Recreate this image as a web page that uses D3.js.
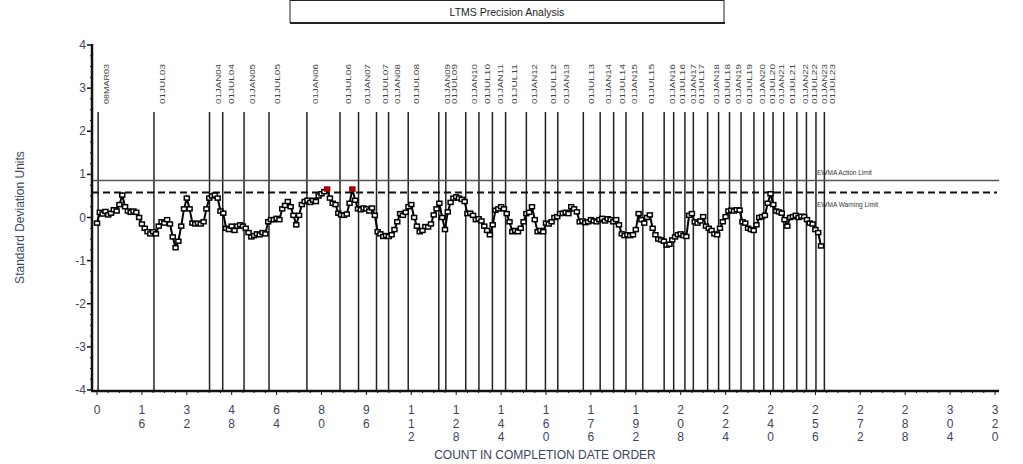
<!DOCTYPE html>
<html>
<head>
<meta charset="utf-8">
<script src="https://cdn.jsdelivr.net/npm/d3@7"></script>
<style>
  body { margin: 0; background: #fff; }
  svg { display: block; font-family: "Liberation Sans", Arial, sans-serif; }
</style>
</head>
<body>
<div id="chart"></div>
<script>
// EWMA values in completion order (count 0..258)
const ewma = [
  -0.13, 0.12, 0.08, 0.14, 0.06, 0.10, 0.18, 0.15, 0.30, 0.52,
  0.25, 0.15, 0.12, 0.15, 0.12, 0.00, -0.15, -0.25, -0.33, -0.38,
  -0.33, -0.38, -0.20, -0.10, -0.13, -0.05, -0.15, -0.45, -0.70, -0.55,
  -0.20, 0.20, 0.45, 0.20, -0.13, -0.15, -0.13, -0.15, -0.10, 0.20,
  0.45, 0.50, 0.52, 0.45, 0.15, 0.10, -0.25, -0.28, -0.20, -0.30,
  -0.20, -0.17, -0.20, -0.25, -0.35, -0.45, -0.42, -0.38, -0.40, -0.35,
  -0.38, -0.10, -0.05, -0.05, -0.02, -0.05, 0.20, 0.28, 0.37, 0.25,
  0.05, -0.17, 0.05, 0.30, 0.37, 0.40, 0.35, 0.40, 0.37, 0.50,
  0.55, 0.60, 0.66, 0.45, 0.33, 0.30, 0.10, 0.06, 0.05, 0.08,
  0.33, 0.66, 0.40, 0.20, 0.18, 0.22, 0.20, 0.15, 0.22, 0.05,
  -0.33, -0.38, -0.44, -0.42, -0.44, -0.40, -0.28, -0.10, 0.09, 0.05,
  0.12, 0.25, 0.30, 0.00, -0.20, -0.33, -0.30, -0.21, -0.22, -0.15,
  0.06, 0.20, 0.33, 0.00, -0.28, 0.13, 0.35, 0.45, 0.48, 0.45,
  0.42, 0.37, 0.09, 0.10, 0.05, -0.05, -0.03, -0.08, -0.20, -0.30,
  -0.40, -0.17, 0.17, 0.20, 0.25, 0.20, 0.09, -0.10, -0.33, -0.30,
  -0.33, -0.25, -0.10, 0.09, 0.12, 0.25, -0.05, -0.33, -0.30, -0.33,
  -0.13, -0.15, -0.10, 0.00, 0.02, 0.09, 0.10, 0.12, 0.09, 0.25,
  0.20, 0.13, -0.10, -0.08, -0.12, -0.10, -0.05, -0.08, -0.10, -0.05,
  -0.02, -0.08, -0.03, -0.05, -0.10, -0.05, -0.17, -0.38, -0.42, -0.40,
  -0.42, -0.40, -0.28, 0.09, -0.05, -0.13, 0.00, 0.06, -0.25, -0.40,
  -0.50, -0.52, -0.55, -0.64, -0.62, -0.52, -0.45, -0.40, -0.38, -0.42,
  -0.44, 0.05, 0.09, -0.10, -0.13, -0.08, 0.02, -0.20, -0.25, -0.30,
  -0.38, -0.40, -0.25, -0.10, 0.02, 0.15, 0.17, 0.15, 0.18, 0.17,
  -0.10, -0.13, -0.25, -0.28, -0.30, -0.17, 0.00, 0.02, 0.05, 0.33,
  0.55, 0.30, 0.15, 0.13, 0.10, -0.05, -0.20, 0.00, 0.02, 0.05,
  0.00, 0.03, 0.02, -0.05, -0.13, -0.15, -0.28, -0.35, -0.66
];
// points flagged red (beyond warning limit)
const flagged = [82, 91];

// date markers: label and count position
const dateLabels = ["08MAR03","01JUL03","01JAN04","01JUL04","01JAN05","01JUL05","01JAN06","01JUL06",
  "01JAN07","01JUL07","01JAN08","01JUL08","01JAN09","01JUL09","01JAN10","01JUL10","01JAN11","01JUL11",
  "01JAN12","01JUL12","01JAN13","01JUL13","01JAN14","01JUL14","01JAN15","01JUL15","01JAN16","01JUL16",
  "01JAN17","01JUL17","01JAN18","01JUL18","01JAN19","01JUL19","01JAN20","01JUL20","01JAN21","01JUL21",
  "01JAN22","01JUL22","01JAN23","01JUL23"];
const dateCounts = [0.4, 20.3, 40.1, 44.8, 52.4, 61.3, 74.8, 86.6, 93.2, 99.6, 103.9, 110.9,
  121.8, 124.3, 131.4, 136.1, 140.9, 145.6, 153.0, 159.8, 164.2, 173.3, 179.3, 184.1,
  188.5, 194.5, 202.1, 205.5, 209.5, 212.5, 217.6, 221.5, 225.4, 229.5, 234.1, 237.6,
  240.9, 244.7, 249.4, 252.8, 256.2, 259.2];

const actionLimit = 0.86;
const warningLimit = 0.58;
const xTicks = d3.range(0, 321, 16);
const yTicks = [-4, -3, -2, -1, 0, 1, 2, 3, 4];

const W = 1023, H = 464;
const svg = d3.select('#chart').append('svg').attr('width', W).attr('height', H);

let x = d3.scaleLinear().domain([0, 320]).range([97, 995]);
let y = d3.scaleLinear().domain([-4, 4]).range([390, 45]);
const axisLeft = 92, axisRight = 999;
const labelColor = '#3b4660';

// Title box
svg.append('rect').attr('x', 290).attr('y', 0.5).attr('width', 434).attr('height', 22)
  .attr('fill', '#fff').attr('stroke', '#222').attr('stroke-width', 1);
svg.append('line').attr('x1', 290).attr('x2', 725).attr('y1', 23).attr('y2', 23)
  .attr('stroke', '#222').attr('stroke-width', 2);
svg.append('text').attr('x', 507).attr('y', 16).attr('text-anchor', 'middle')
  .attr('font-size', '10.5px').attr('fill', '#222').text('LTMS Precision Analysis');

// Date lines and labels
dateCounts.forEach(function (c, i) {
  svg.append('line').attr('x1', x(c)).attr('x2', x(c)).attr('y1', 112).attr('y2', y(-4))
    .attr('stroke', '#222').attr('stroke-width', 1.5);
  svg.append('text')
    .attr('transform', 'translate(' + (x(c) + 11) + ',104) rotate(-90)')
    .attr('font-size', '7px').attr('fill', '#444')
    .attr('textLength', 40).attr('lengthAdjust', 'spacingAndGlyphs')
    .text(dateLabels[i]);
});

// Limits
svg.append('line').attr('x1', axisLeft).attr('x2', axisRight)
  .attr('y1', y(actionLimit)).attr('y2', y(actionLimit))
  .attr('stroke', '#555').attr('stroke-width', 1.5);
svg.append('line').attr('x1', axisLeft).attr('x2', axisRight - 2)
  .attr('y1', y(warningLimit)).attr('y2', y(warningLimit))
  .attr('stroke', '#111').attr('stroke-width', 2).attr('stroke-dasharray', '7,4');
svg.append('text').attr('x', 817).attr('y', y(actionLimit) - 5).attr('font-size', '6.5px')
  .attr('fill', '#333').text('EWMA Action Limit');
svg.append('text').attr('x', 817).attr('y', y(warningLimit) + 15).attr('font-size', '6.5px')
  .attr('fill', '#333').text('EWMA Warning Limit');

// Series
let line = d3.line().x(function (d, i) { return x(i); }).y(function (d) { return y(d); });
svg.append('path').datum(ewma).attr('d', line).attr('fill', 'none')
  .attr('stroke', '#000').attr('stroke-width', 2);
svg.selectAll('rect.pt').data(ewma).enter().append('rect').attr('class', 'pt')
  .attr('x', function (d, i) { return x(i) - 2.5; })
  .attr('y', function (d) { return y(d) - 2; })
  .attr('width', 5).attr('height', 4)
  .attr('fill', function (d, i) { return flagged.indexOf(i) >= 0 ? '#b00' : '#fff'; })
  .attr('stroke', function (d, i) { return flagged.indexOf(i) >= 0 ? '#900' : '#000'; })
  .attr('stroke-width', 1.5);

// Y axis
svg.append('line').attr('x1', axisLeft).attr('x2', axisLeft).attr('y1', y(4) - 1).attr('y2', y(-4) + 1)
  .attr('stroke', '#111').attr('stroke-width', 2.5);
d3.range(-4, 4.01, 0.25).forEach(function (v) {
  let major = Math.abs(v - Math.round(v)) < 1e-6;
  svg.append('line').attr('x1', axisLeft - (major ? 5 : 2)).attr('x2', axisLeft)
    .attr('y1', y(v)).attr('y2', y(v)).attr('stroke', '#111').attr('stroke-width', major ? 1.5 : 1);
});
svg.selectAll('text.ytick').data(yTicks).enter().append('text').attr('class', 'ytick')
  .attr('x', axisLeft - 6).attr('y', function (d) { return y(d) + 4; })
  .attr('text-anchor', 'end').attr('font-size', '12px').attr('fill', labelColor)
  .text(function (d) { return d; });
svg.append('text').attr('transform', 'translate(24,' + y(0) + ') rotate(-90)')
  .attr('text-anchor', 'middle').attr('font-size', '12px').attr('fill', labelColor)
  .text('Standard Deviation Units');

// X axis
svg.append('line').attr('x1', axisLeft - 1).attr('x2', axisRight).attr('y1', 391).attr('y2', 391)
  .attr('stroke', '#111').attr('stroke-width', 2.5);
d3.range(0, 321, 4).forEach(function (v) {
  let major = v % 16 === 0;
  svg.append('line').attr('x1', x(v)).attr('x2', x(v)).attr('y1', 391).attr('y2', 391 + (major ? 4 : 2))
    .attr('stroke', '#111').attr('stroke-width', 1);
});
let xt = svg.selectAll('text.xtick').data(xTicks).enter().append('text').attr('class', 'xtick')
  .attr('text-anchor', 'middle').attr('font-size', '12px').attr('fill', labelColor);
xt.each(function (d) {
  let digits = String(d).split('');
  let t = d3.select(this);
  digits.forEach(function (ch, k) {
    t.append('tspan').attr('x', x(d)).attr('y', 414 + k * 13.5).text(ch);
  });
});
svg.append('text').attr('x', 545).attr('y', 459).attr('text-anchor', 'middle')
  .attr('font-size', '12px').attr('fill', labelColor).text('COUNT IN COMPLETION DATE ORDER');
</script>
</body>
</html>
